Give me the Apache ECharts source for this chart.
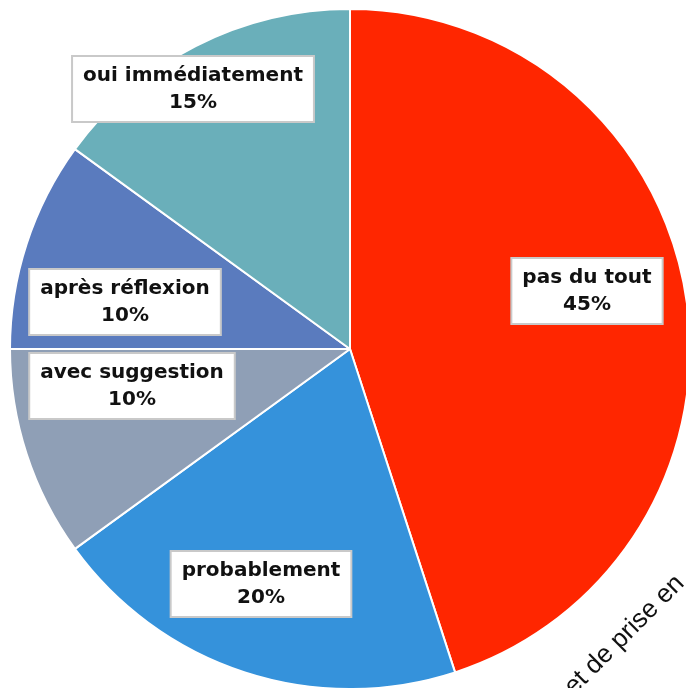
<!DOCTYPE html>
<html><head><meta charset="utf-8">
<script src="https://cdn.jsdelivr.net/npm/echarts@6/dist/echarts.min.js"></script>
<style>html,body{margin:0;padding:0;background:#fff}#c{width:686px;height:688px}</style>
</head><body><div id="c"></div>
<script>
const categories = ['pas du tout', 'probablement', 'avec suggestion', 'après réflexion', 'oui immédiatement'];
const values = [45, 20, 10, 10, 15];
const colors = ['#FF2600', '#3592DB', '#8F9FB6', '#5A7BBE', '#6AAFBA'];
const labelPos = [[587, 291], [261, 584], [132, 386], [125, 302], [193, 89]];

const chart = echarts.init(document.getElementById('c'));
chart.setOption({
  animation: false,
  series: [{
    type: 'pie',
    center: [350, 349],
    radius: 340,
    startAngle: 90,
    clockwise: true,
    data: categories.map((n, i) => ({ name: n, value: values[i], itemStyle: { color: colors[i] } })),
    itemStyle: { borderColor: '#fff', borderWidth: 2 },
    label: {
      show: true,
      position: 'inside',
      formatter: '{b}\n{d}%',
      fontFamily: 'DejaVu Sans',
      fontWeight: 'bold',
      fontSize: 20,
      lineHeight: 27,
      color: '#111',
      align: 'center',
      backgroundColor: '#fff',
      borderColor: '#c9c9c9',
      borderWidth: 2,
      padding: [5, 10]
    },
    labelLine: { show: false },
    labelLayout: function (p) {
      return { x: labelPos[p.dataIndex][0], y: labelPos[p.dataIndex][1], align: 'center', verticalAlign: 'middle' };
    }
  }],
  graphic: [{
    type: 'text',
    x: 578, y: 700,
    rotation: Math.PI / 4,
    style: {
      text: 'et de prise en',
      font: '26px "Liberation Sans"',
      fill: '#111',
      textAlign: 'left',
      textVerticalAlign: 'bottom'
    }
  }]
});
</script></body></html>
